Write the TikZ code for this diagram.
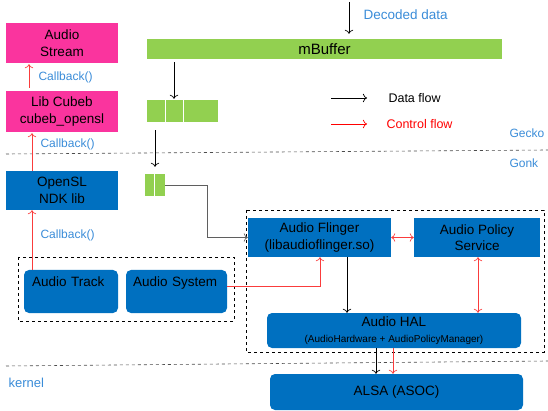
\documentclass[tikz,border=0pt]{standalone}
\usepackage{fontspec}
\setmainfont{Liberation Sans}
\usetikzlibrary{positioning,arrows.meta}
\definecolor{pinkbox}{RGB}{250,52,158}
\definecolor{bluebox}{RGB}{0,112,192}
\definecolor{greenbuf}{RGB}{146,208,80}
\definecolor{labelblue}{RGB}{58,140,216}
\definecolor{ctrlred}{RGB}{250,60,60}
\definecolor{datagray}{RGB}{95,95,95}
\tikzset{
  box/.style={draw=none, inner sep=0pt, align=center, font=\fontsize{13.5}{16.5}\selectfont},
  pinkblk/.style={box, fill=pinkbox, minimum width=112pt},
  blueblk/.style={box, fill=bluebox, minimum width=112pt},
  roundblk/.style={box, fill=bluebox, rounded corners=5pt},
  buffer/.style={fill=greenbuf, draw=none, inner sep=0pt},
  note/.style={anchor=west, text=labelblue, font=\fontsize{12}{14}\selectfont},
  dataarrow/.style={-{To[scale=1.3]}, line width=0.7pt, draw=black},
  ctrlarrow/.style={-{To[scale=1.3]}, line width=0.7pt, draw=ctrlred},
  ctrlboth/.style={{To[scale=1.3]}-{To[scale=1.3]}, line width=0.7pt, draw=ctrlred},
  group/.style={dashed, line width=0.6pt},
}
\begin{document}
\begin{tikzpicture}[x=1pt, y=-1pt]
\useasboundingbox (0,0) rectangle (548,411);
% layer separators
\draw[dashed, line width=0.6pt, black!70] (6,154) -- (548,150);
\draw[dashed, line width=0.6pt, black!70] (6,366) -- (548,361);
\node[note] (gecko) at (506,133) {Gecko};
\node[note] (gonk) at (506,163) {Gonk};
\node[note, font=\fontsize{13}{15}\selectfont] (kernel) at (5,383) {kernel};
% gecko side
\node[pinkblk, minimum height=40pt] (stream) at (62,43) {Audio\\Stream};
\node[pinkblk, minimum height=41pt] (cubeb) at (62,111.5) {Lib Cubeb\\cubeb\_opensl};
\node[blueblk, minimum height=39pt] (opensl) at (62,190.5) {OpenSL\\NDK lib};
\node[note] (cb1) at (35,77) {Callback()};
\node[note] (cb2) at (37,144) {Callback()};
\node[note] (cb3) at (37,235) {Callback()};
% buffers
\node[buffer, minimum width=355pt, minimum height=20pt, font=\fontsize{15}{17}\selectfont] (mbuf) at (324.5,49) {mBuffer};
\node[buffer, minimum width=71pt, minimum height=22pt] (buf2) at (182.5,111) {};
\draw[white, line width=0.8pt] (165,100) -- (165,122) (183,100) -- (183,122);
\node[buffer, minimum width=20pt, minimum height=22pt] (buf3) at (155,185) {};
\draw[white, line width=0.8pt] (154,174) -- (154,196);
\coordinate (dd) at (349,2);
\node[note, font=\fontsize{13.5}{15}\selectfont] (ddtext) at (360,15) {Decoded data};
% legend
\coordinate (lg1) at (331,98);
\coordinate (lg2) at (331,124);
\node[anchor=west, font=\fontsize{12.5}{14}\selectfont] (dflow) at (385,98) {Data flow};
\node[anchor=west, text=red, font=\fontsize{12.5}{14}\selectfont] (cflow) at (383,124) {Control flow};
\draw[dataarrow] (lg1) -- ++(36,0);
\draw[ctrlarrow, draw=red] (lg2) -- ++(36,0);
% native side
\draw[group] (18,257) rectangle (234,321);
\draw[group] (246,210) rectangle (544,352);
\node[roundblk, minimum width=94pt, minimum height=43pt, text width=78pt, align=left,
  text height=12pt, text depth=22pt] (track) at (71,291.5) {Audio Track};
\node[roundblk, minimum width=101pt, minimum height=43pt, text width=87pt, align=left,
  text height=12pt, text depth=22pt] (system) at (176.5,291.5) {Audio System};
\node[blueblk, minimum width=143pt, minimum height=39pt] (flinger) at (319.5,237.5) {Audio Flinger\\(libaudioflinger.so)};
\node[blueblk, minimum width=126pt, minimum height=39pt] (policy) at (477,237.5) {Audio Policy\\Service};
\node[roundblk, minimum width=254pt, minimum height=35pt] (hal) at (394,330.5)
  {Audio HAL\\[-1pt]{\fontsize{10}{12}\selectfont(AudioHardware + AudioPolicyManager)}};
\node[roundblk, minimum width=253pt, minimum height=36pt] (alsa) at (396.5,392) {ALSA (ASOC)};
% data flow
\draw[dataarrow, shorten >=5pt] (dd) -- (dd |- mbuf.north);
\draw[dataarrow, shorten <=3pt, shorten >=1pt] (mbuf.south -| 174,0) -- (buf2.north -| 174,0);
\draw[dataarrow, shorten <=8pt, shorten >=7pt] (buf2.south -| 155,0) -- (buf3.north);
\draw[dataarrow, draw=datagray] (buf3.east) -- ++(42,0) |- (flinger.west);
\draw[dataarrow] (flinger.south -| 347,0) -- (hal.north -| 347,0);
\draw[dataarrow] (hal.south -| 376,0) -- (alsa.north -| 376,0);
% control flow
\draw[ctrlarrow, shorten <=3pt, shorten >=1pt] (cubeb.north -| 29,0) -- (stream.south -| 29,0);
\draw[ctrlarrow, shorten >=1pt] (opensl.north -| 32,0) -- (cubeb.south -| 32,0);
\draw[ctrlarrow] (track.north -| 32,0) -- (opensl.south -| 32,0);
\draw[ctrlarrow] ([yshift=5pt]system.east) -| (flinger.south -| 320,0);
\draw[ctrlboth] (flinger.east) -- (policy.west);
\draw[ctrlboth] (policy.south -| 478,0) -- (hal.north -| 478,0);
\draw[ctrlarrow] (hal.south -| 393,0) -- (alsa.north -| 393,0);
\end{tikzpicture}
\end{document}
